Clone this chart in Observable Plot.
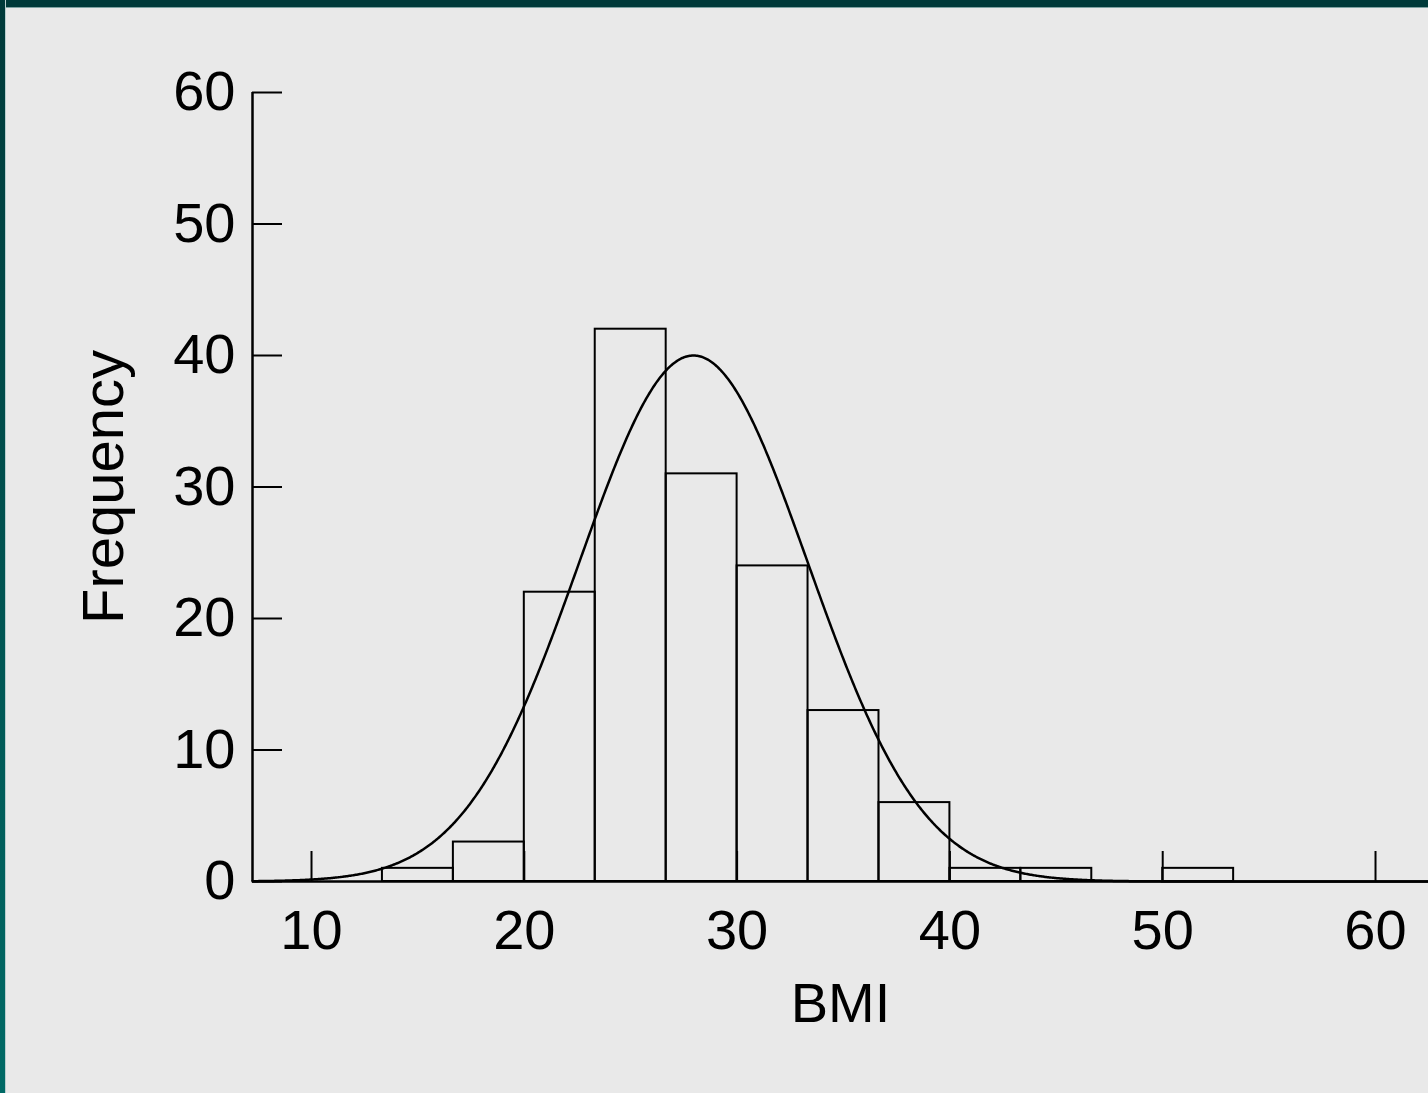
<!DOCTYPE html>
<html>
<head>
<meta charset="utf-8">
<script src="https://cdn.jsdelivr.net/npm/d3@7"></script>
<script src="https://cdn.jsdelivr.net/npm/@observablehq/plot@0.6"></script>
<style>
  html, body { margin: 0; padding: 0; background: #e9e9e9; overflow: hidden; }
  #wrap { position: relative; width: 1428px; height: 1093px; }
  #chart { position: absolute; left: 0; top: 0; }
  #topbar { position: absolute; left: 0; top: 0; width: 1428px; height: 7px; background: #003a3a; border-bottom: 1px solid #7fa3a3; }
  #leftbar { position: absolute; left: 0; top: 0; width: 5px; height: 1093px; background: linear-gradient(#003a3a, #006a66); border-right: 1px solid #b8cfcf; }
</style>
</head>
<body>
<div id="wrap">
  <div id="chart"></div>
  <div id="topbar"></div>
  <div id="leftbar"></div>
</div>
<script>
// Histogram bins (BMI), bin width 10/3
const binStarts = [10, 13.333, 16.667, 20, 23.333, 26.667, 30, 33.333, 36.667, 40, 43.333, 46.667, 50, 53.333, 56.667];
const binEnds   = [13.333, 16.667, 20, 23.333, 26.667, 30, 33.333, 36.667, 40, 43.333, 46.667, 50, 53.333, 56.667, 60];
const counts    = [0, 1, 3, 22, 42, 31, 24, 13, 6, 1, 1, 0, 1, 0, 0];

// Fitted normal curve parameters
const curveMean = 27.95;
const curveSd = 5.37;
const curvePeak = 40;

const xTicks = [10, 20, 30, 40, 50, 60];
const yTicks = [0, 10, 20, 30, 40, 50, 60];
const xLabel = "BMI";
const yLabel = "Frequency";

const xDomain = [7.227, 62.49];
const yDomain = [0, 60];

const bins = binStarts.map((s, i) => ({x1: s, x2: binEnds[i], count: counts[i]}));

const curve = d3.range(xDomain[0], xDomain[1] + 0.001, 0.05).map(x => ({
  x, y: curvePeak * Math.exp(-0.5 * ((x - curveMean) / curveSd) ** 2)
}));

const chart = Plot.plot({
  width: 1428,
  height: 1093,
  marginLeft: 252,
  marginRight: 0,
  marginTop: 92,
  marginBottom: 212,
  style: {background: "#e9e9e9", fontFamily: "'Liberation Sans', Arial, sans-serif", fontSize: "56px", color: "black"},
  x: {domain: xDomain},
  y: {domain: yDomain},
  marks: [
    Plot.rectY(bins, {x1: "x1", x2: "x2", y: "count", fill: "none", stroke: "black", strokeWidth: 2}),
    Plot.line(curve, {x: "x", y: "y", stroke: "black", strokeWidth: 2.5}),
    Plot.ruleY([0], {stroke: "black", strokeWidth: 2.5}),
    Plot.ruleX([xDomain[0]], {stroke: "black", strokeWidth: 2.5}),
    Plot.axisX({ticks: xTicks, tickSize: -30, tickPadding: 58, label: null, strokeWidth: 2, fill: "black", tickFormat: d => String(d)}),
    Plot.axisY({ticks: yTicks, tickSize: -30, tickPadding: 47, label: null, strokeWidth: 2, fill: "black", tickFormat: d => String(d)}),
    Plot.text([xLabel], {frameAnchor: "bottom", textAnchor: "middle", lineAnchor: "middle", dy: 123, fontSize: 56, fill: "black"}),
    Plot.text([yLabel], {frameAnchor: "left", textAnchor: "middle", lineAnchor: "middle", rotate: -90, dx: -148, fontSize: 58, fill: "black"})
  ]
});
document.getElementById("chart").appendChild(chart);
</script>
</body>
</html>
